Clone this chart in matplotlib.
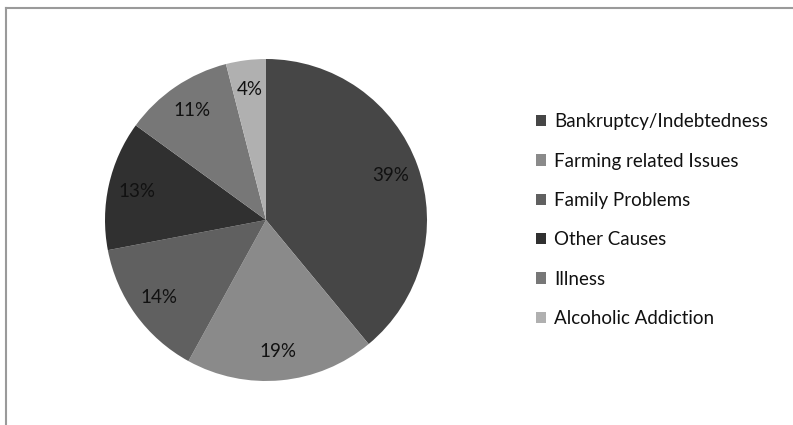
import matplotlib.pyplot as plt
from matplotlib.lines import Line2D

causes = ["Bankruptcy/Indebtedness", "Farming related Issues", "Family Problems",
          "Other Causes", "Illness", "Alcoholic Addiction"]
shares = [39, 19, 14, 13, 11, 4]
colors = ["#464646", "#8a8a8a", "#606060", "#303030", "#777777", "#b0b0b0"]

plt.rcParams['font.family'] = ['Lato', 'DejaVu Sans']

fig = plt.figure(figsize=(7.93, 4.25), dpi=100)

# chart border (only top/left edges are visible)
fig.add_artist(Line2D([6/793, 1], [1 - 8/425, 1 - 8/425], color="#9a9a9a", lw=1.5,
                      transform=fig.transFigure))
fig.add_artist(Line2D([6/793, 6/793], [0, 1 - 8/425], color="#9a9a9a", lw=1.5,
                      transform=fig.transFigure))

ax = fig.add_axes([105/793, 44/425, 322/793, 322/425])
wedges, texts, autotexts = ax.pie(
    shares, colors=colors, startangle=90, counterclock=False,
    autopct=lambda p: f"{p:.0f}%", pctdistance=0.82, radius=1,
    wedgeprops=dict(linewidth=0),
    textprops=dict(fontsize=13.5, color="#111111"))
ax.set_xlim(-1, 1)
ax.set_ylim(-1, 1)
ax.set_aspect("equal")

ax.legend(wedges, causes, loc="center left", frameon=False,
          bbox_to_anchor=(536/793, 0.482), bbox_transform=fig.transFigure,
          fontsize=13.5, handlelength=0.55, handleheight=0.55, handletextpad=0.4,
          labelspacing=1.19, borderpad=0, borderaxespad=0, labelcolor="#111111")

fig.savefig("out.png", dpi=100)
